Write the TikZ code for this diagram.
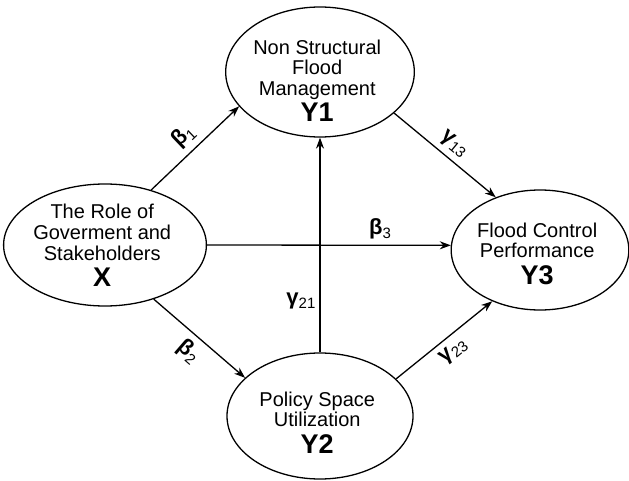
\documentclass[tikz,border=0pt]{standalone}
\usepackage{fontspec}
\setmainfont{Liberation Sans}
\usepackage{tikz}
\usetikzlibrary{shapes.geometric}
\usetikzlibrary{arrows.meta}
\newcommand{\proc}[3][-9pt]{\raisebox{#1}[0pt][0pt]{\fontsize{20}{20.5}\selectfont
                      \begin{tabular}{@{}c@{}}#2\\[2pt]
                      {\fontsize{27}{27}\selectfont\bfseries #3}
                      \end{tabular}}
                     }
\newcommand{\glab}[2]{{\fontsize{22}{22}\selectfont\bfseries #1}%
                      \raisebox{-4pt}{\fontsize{15}{15}\selectfont #2}
                     }

\begin{document}
\begin{tikzpicture}[x=1pt,y=1pt,every node/.style={inner sep=0pt},
  var/.style={ellipse,draw=black,line width=1.3pt,align=center},
  link/.style={-{Stealth[length=11pt,width=8pt]},draw=black,line width=1.3pt}]
 \useasboundingbox (0,0) rectangle (629,480);

 \draw (105,235)  node[var,minimum width=188pt,minimum height=122pt] (X)
              {\proc{The Role of\\Goverment and\\Stakeholders}{X}
              };

 \draw (320,408)  node[var,minimum width=186pt,minimum height=130pt] (Y1)
              {\proc[-17pt]{Non Structural\\Flood\\Management}{Y1}
              };

 \draw (320,64)  node[var,minimum width=186pt,minimum height=126pt] (Y2)
              {\proc[-15pt]{Policy Space\\Utilization}{Y2}
              };

 \draw (540,230)  node[var,minimum width=174pt,minimum height=120pt] (Y3)
              {\proc[-12pt]{Flood Control\\Performance}{Y3}
              };

 \draw[link] (X.50) -- (Y1.203)
    node[midway,above=6pt,sloped]   {\glab{β}{1}};
 \draw[link] (X.-48) -- (Y2.153)
    node[midway,below=6pt,sloped]   {\glab{β}{2}};
 \draw[link] (X.east) -- (Y3.177)
    node[pos=.71,above=6pt]   {\glab{β}{3}};

 \draw[link] (Y2.north) -- (Y1.south)
    node[pos=.24,left=4pt]   {\glab{γ}{21}};
 \draw[link] (Y1.-29) -- (Y3.130)
    node[midway,above=6pt,sloped]   {\glab{γ}{13}};
 \draw[link] (Y2.26) -- (Y3.227)
    node[midway,below=6pt,sloped]   {\glab{γ}{23}};

\end{tikzpicture}
\end{document}
